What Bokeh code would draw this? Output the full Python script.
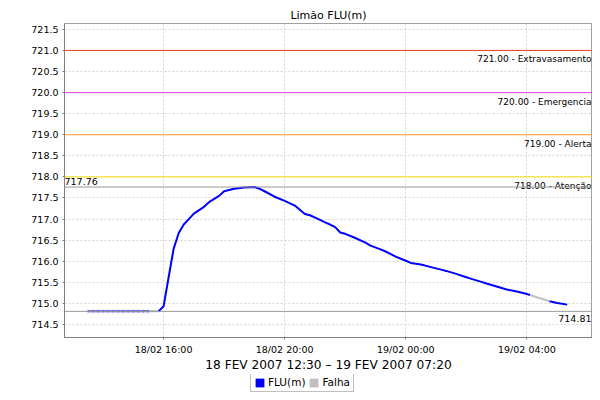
import numpy as np
import pandas as pd
from bokeh.plotting import figure
from bokeh.layouts import column
from bokeh.models import (Label, Span, Legend, LegendItem, FixedTicker, DatetimeTickFormatter,
                          ColumnDataSource, NumeralTickFormatter, Range1d)
from bokeh.embed import file_html
from bokeh.resources import INLINE

title_text = "Limão FLU(m)"
axis_title = "18 FEV 2007 12:30 – 19 FEV 2007 07:20"

# Main series FLU(m) (NaN = gap)
flu_times = [
    "2007-02-18 15:50", "2007-02-18 16:00", "2007-02-18 16:10", "2007-02-18 16:20", "2007-02-18 16:30",
    "2007-02-18 16:40", "2007-02-18 16:50", "2007-02-18 17:00", "2007-02-18 17:20", "2007-02-18 17:30",
    "2007-02-18 17:50", "2007-02-18 18:00", "2007-02-18 18:20", "2007-02-18 18:40", "2007-02-18 19:00",
    "2007-02-18 19:10", "2007-02-18 19:20", "2007-02-18 19:40", "2007-02-18 20:00", "2007-02-18 20:20",
    "2007-02-18 20:40", "2007-02-18 20:50", "2007-02-18 21:10", "2007-02-18 21:20", "2007-02-18 21:30",
    "2007-02-18 21:40", "2007-02-18 21:50", "2007-02-18 22:00", "2007-02-18 22:20", "2007-02-18 22:40",
    "2007-02-18 22:50", "2007-02-18 23:10", "2007-02-18 23:20", "2007-02-18 23:40", "2007-02-19 00:00",
    "2007-02-19 00:10", "2007-02-19 00:30", "2007-02-19 00:50", "2007-02-19 01:10", "2007-02-19 01:20",
    "2007-02-19 01:40", "2007-02-19 02:00", "2007-02-19 02:10", "2007-02-19 02:30", "2007-02-19 02:40",
    "2007-02-19 03:00", "2007-02-19 03:20", "2007-02-19 03:40", "2007-02-19 04:00", "2007-02-19 04:06",
    "2007-02-19 04:20",
    "2007-02-19 04:45", "2007-02-19 05:00", "2007-02-19 05:20",
]
flu_values = [
    714.81, 714.93, 715.62, 716.30, 716.67,
    716.87, 717.00, 717.13, 717.29, 717.40,
    717.55, 717.66, 717.72, 717.75, 717.76,
    717.72, 717.66, 717.53, 717.43, 717.32,
    717.12, 717.09, 716.98, 716.92, 716.87,
    716.81, 716.68, 716.65, 716.55, 716.44,
    716.37, 716.28, 716.23, 716.11, 716.01,
    715.96, 715.92, 715.86, 715.80, 715.77,
    715.70, 715.62, 715.58, 715.51, 715.47,
    715.40, 715.33, 715.28, 715.22, 715.20,
    np.nan,
    715.05, 715.01, 714.97,
]

# FLU(m) readings during the failure period (drawn faded)
suspect_times = ["2007-02-18 13:30", "2007-02-18 13:40", "2007-02-18 13:50", "2007-02-18 14:00",
                 "2007-02-18 14:10", "2007-02-18 14:20", "2007-02-18 14:30", "2007-02-18 14:40",
                 "2007-02-18 14:50", "2007-02-18 15:00", "2007-02-18 15:10", "2007-02-18 15:20",
                 "2007-02-18 15:30"]
suspect_values = [714.81] * 13

# Falha series (NaN = gap)
falha_times = ["2007-02-18 13:30", "2007-02-18 15:50", "2007-02-18 16:00",
               "2007-02-19 04:06", "2007-02-19 04:45"]
falha_values = [714.81, 714.81, np.nan, 715.20, 715.05]

level_values = [721.0, 720.0, 719.0, 718.0]
level_names = ["Extravasamento", "Emergencia", "Alerta", "Atenção"]
max_value = 717.76
min_value = 714.81

legend_labels = ["FLU(m)", "Falha"]

x_tick_times = ["2007-02-18 16:00", "2007-02-18 20:00", "2007-02-19 00:00", "2007-02-19 04:00"]
y_ticks = [714.5, 715.0, 715.5, 716.0, 716.5, 717.0, 717.5, 718.0, 718.5, 719.0, 719.5, 720.0, 720.5, 721.0, 721.5]

x_start = "2007-02-18 12:43:40"
x_end = "2007-02-19 06:10:00"
y_start, y_end = 714.19, 721.64


def ms(s):
    return pd.Timestamp(s).timestamp() * 1000.0


level_colors = ["#e8422e", "#e040e0", "#ff9a30", "#f8e000"]
FLU_COLOR = "#0000ff"
FALHA_COLOR = "#c0c0c0"
FONT = "DejaVu Sans"

p = figure(width=592, height=374, x_axis_type="datetime",
           x_range=Range1d(ms(x_start), ms(x_end)), y_range=Range1d(y_start, y_end),
           output_backend="svg", toolbar_location=None,
           min_border_left=64, min_border_right=0, min_border_top=23, min_border_bottom=37)

p.title.text = title_text
p.title.align = "center"
p.title.vertical_align = "top"
p.title.text_font = FONT
p.title.text_font_size = "11px"
p.title.text_font_style = "normal"
p.title.text_color = "#000000"
p.title.offset = -28
p.title.standoff = 0

p.background_fill_color = "white"
p.border_fill_color = "white"
p.outline_line_color = "#a0a0a0"
p.outline_line_width = 1

for g in (p.xgrid, p.ygrid):
    g.grid_line_color = "#d4d4d4"
    g.grid_line_dash = "2 2"
    g.grid_line_width = 1

p.xaxis.ticker = FixedTicker(ticks=[ms(t) for t in x_tick_times])
fmt = "%d/%m %H:%M"
p.xaxis.formatter = DatetimeTickFormatter(microseconds=fmt, milliseconds=fmt, seconds=fmt, minsec=fmt,
                                          minutes=fmt, hourmin=fmt, hours=fmt, days=fmt, months=fmt, years=fmt)
p.yaxis.ticker = FixedTicker(ticks=y_ticks)
p.yaxis.formatter = NumeralTickFormatter(format="0.0")

for ax in (p.xaxis, p.yaxis):
    ax.axis_line_color = "#808080"
    ax.major_tick_line_color = "#808080"
    ax.major_tick_in = 0
    ax.major_tick_out = 2
    ax.minor_tick_line_color = None
    ax.major_label_text_font = FONT
    ax.major_label_text_font_size = "9.5px"
    ax.major_label_text_color = "#000000"
    ax.major_label_standoff = 4

p.xaxis.major_label_standoff = 4
p.xaxis.axis_label = axis_title
p.xaxis.axis_label_text_font = FONT
p.xaxis.axis_label_text_font_size = "12.2px"
p.xaxis.axis_label_text_font_style = "normal"
p.xaxis.axis_label_text_color = "#000000"
p.xaxis.axis_label_standoff = 0

# threshold lines
for v, name, c in zip(level_values, level_names, level_colors):
    p.add_layout(Span(location=v, dimension="width", line_color=c, line_width=1))
    p.add_layout(Label(x=ms(x_end), y=v, text=f"{v:.2f} - {name}", text_align="right",
                       text_baseline="top", x_offset=-1, y_offset=-4, text_font=FONT,
                       text_font_size="9px", text_color="#000000"))

p.add_layout(Span(location=max_value, dimension="width", line_color="#999999", line_width=1))
p.add_layout(Span(location=min_value, dimension="width", line_color="#999999", line_width=1))
p.add_layout(Label(x=ms(x_start), y=max_value, text=f"{max_value:.2f}", text_align="left",
                   text_baseline="bottom", x_offset=0, y_offset=2, text_font=FONT,
                   text_font_size="9.5px", text_color="#000000"))
p.add_layout(Label(x=ms(x_end), y=min_value, text=f"{min_value:.2f}", text_align="right",
                   text_baseline="top", x_offset=-1, y_offset=-4, text_font=FONT,
                   text_font_size="9.5px", text_color="#000000"))

falha_src = ColumnDataSource(dict(t=pd.to_datetime(falha_times), v=falha_values))
p.line("t", "v", source=falha_src, line_color=FALHA_COLOR, line_width=2)

sus_src = ColumnDataSource(dict(t=pd.to_datetime(suspect_times), v=suspect_values))
p.line("t", "v", source=sus_src, line_color=FLU_COLOR, line_alpha=0.55, line_width=2)
p.scatter("t", "v", source=sus_src, marker="cross", size=4, line_color=FLU_COLOR, line_alpha=0.25)

flu_src = ColumnDataSource(dict(t=pd.to_datetime(flu_times), v=flu_values))
p.line("t", "v", source=flu_src, line_color=FLU_COLOR, line_width=2)

# legend strip below the chart (frame aligned with the chart frame by the column layout)
lf = figure(width=592, height=18, x_range=(0, 1), y_range=(0, 1), output_backend="svg",
            toolbar_location=None, min_border=0, min_border_left=0, min_border_right=0,
            min_border_top=0, min_border_bottom=0)
lf.axis.visible = False
lf.grid.visible = False
lf.outline_line_color = None
# swatch renderers: one quad placed outside the visible range, used only for the legend swatches
leg_src = ColumnDataSource(dict(l=[-10.0], r=[-9.0], b=[-10.0], t=[-9.0]))
r1 = lf.quad(left="l", right="r", bottom="b", top="t", source=leg_src,
             fill_color=FLU_COLOR, line_color=None)
r2 = lf.quad(left="l", right="r", bottom="b", top="t", source=leg_src,
             fill_color=FALHA_COLOR, line_color=None)
legend = Legend(items=[LegendItem(label=legend_labels[0], renderers=[r1]),
                       LegendItem(label=legend_labels[1], renderers=[r2])],
                orientation="horizontal", location=(186, 0),
                label_text_font=FONT, label_text_font_size="10.5px", label_text_color="#000000",
                border_line_color="#808080", border_line_width=1, background_fill_alpha=1,
                padding=3, spacing=3, margin=0, glyph_width=11, glyph_height=11,
                label_standoff=3, label_height=11, label_width=10)
lf.add_layout(legend, "center")

layout = column(p, lf, spacing=0)
open("out.html", "w").write(file_html(layout, INLINE))
